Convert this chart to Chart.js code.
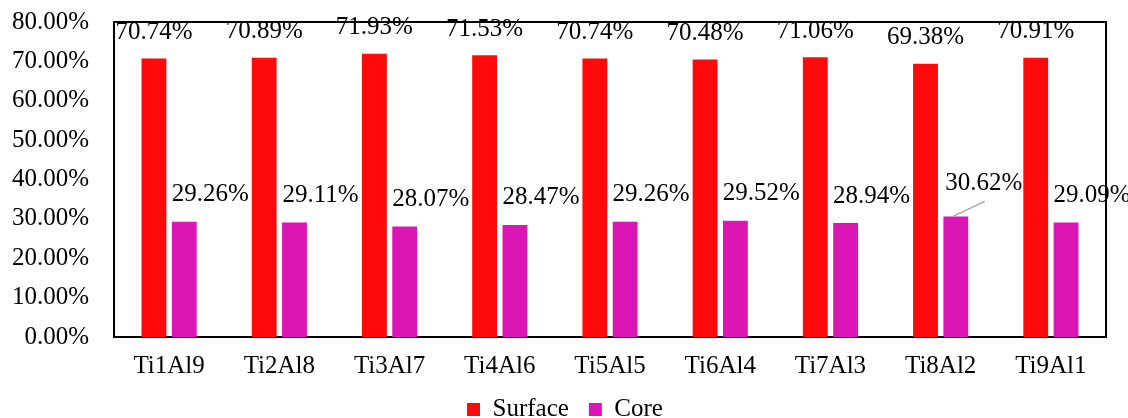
<!DOCTYPE html>
<html>
<head>
<meta charset="utf-8">
<script src="https://cdn.jsdelivr.net/npm/chart.js@4/dist/chart.umd.min.js"></script>
<style>
  html, body { margin: 0; padding: 0; background: #fff; overflow: hidden; }
  #wrap { width: 1128px; height: 418px; }
</style>
</head>
<body>
<div id="wrap"><canvas id="c" width="1128" height="418"></canvas></div>
<script>
// Alloy compositions and the surface / core fractions (%)
const categories = ['Ti1Al9', 'Ti2Al8', 'Ti3Al7', 'Ti4Al6', 'Ti5Al5', 'Ti6Al4', 'Ti7Al3', 'Ti8Al2', 'Ti9Al1'];
const surfaceValues = [70.74, 70.89, 71.93, 71.53, 70.74, 70.48, 71.06, 69.38, 70.91];
const coreValues = [29.26, 29.11, 28.07, 28.47, 29.26, 29.52, 28.94, 30.62, 29.09];
const yTicks = [0, 10, 20, 30, 40, 50, 60, 70, 80];

const FONT = '"Liberation Serif", "Times New Roman", serif';
const fmt = v => v.toFixed(2) + '%';

// Frame around the plot area, drawn beneath the bars
const framePlugin = {
  id: 'frame',
  beforeDatasetsDraw(chart) {
    const { ctx, chartArea: a } = chart;
    ctx.save();
    ctx.strokeStyle = '#000';
    ctx.lineWidth = 2;
    ctx.strokeRect(a.left, a.top, a.right - a.left, a.bottom - a.top);
    ctx.restore();
  }
};

// Nudge the legend a little to the right of the canvas centre
const legendShift = {
  id: 'legendShift',
  afterLayout(chart) {
    chart.legend.left += 12;
    chart.legend.right += 12;
  }
};

// Value labels: surface centred above each bar, core shifted to the right;
// the Ti8Al2 core label is lifted and joined to its bar by a leader line
const valueLabels = {
  id: 'valueLabels',
  afterDatasetsDraw(chart) {
    const { ctx } = chart;
    ctx.save();
    ctx.font = '25px ' + FONT;
    ctx.fillStyle = '#000';
    ctx.textBaseline = 'middle';
    ctx.textAlign = 'center';
    chart.getDatasetMeta(0).data.forEach((bar, i) => {
      ctx.fillText(fmt(surfaceValues[i]), bar.x, bar.y - 26);
    });
    chart.getDatasetMeta(1).data.forEach((bar, i) => {
      if (i === 7) {
        ctx.strokeStyle = '#A6A6A6';
        ctx.lineWidth = 1.5;
        ctx.beginPath();
        ctx.moveTo(bar.x - 3, bar.y);
        ctx.lineTo(bar.x + 29, bar.y - 15);
        ctx.stroke();
        ctx.fillText(fmt(coreValues[i]), bar.x + 28, bar.y - 33);
      } else {
        ctx.fillText(fmt(coreValues[i]), bar.x + 26, bar.y - 27);
      }
    });
    ctx.restore();
  }
};

new Chart(document.getElementById('c'), {
  type: 'bar',
  data: {
    labels: categories,
    datasets: [
      { label: 'Surface', data: surfaceValues, backgroundColor: '#FF0A0A', borderWidth: 0,
        categoryPercentage: 0.55, barPercentage: 0.82 },
      { label: 'Core', data: coreValues, backgroundColor: '#DC16B4', borderWidth: 0,
        categoryPercentage: 0.55, barPercentage: 0.82 }
    ]
  },
  options: {
    responsive: false,
    animation: false,
    devicePixelRatio: 1,
    layout: { padding: { top: 22, right: 22, left: 0, bottom: -14 } },
    plugins: {
      tooltip: { enabled: false },
      legend: {
        position: 'bottom',
        labels: {
          font: { family: FONT, size: 25 },
          color: '#000',
          boxWidth: 13,
          boxHeight: 13,
          padding: 20
        }
      }
    },
    scales: {
      x: {
        grid: { display: false, drawTicks: false },
        border: { display: false },
        ticks: { font: { family: FONT, size: 25 }, color: '#000', padding: 14, maxRotation: 0 },
        afterFit(s) { s.height = 40; }
      },
      y: {
        min: 0,
        max: 80,
        grid: { display: false, drawTicks: true, tickLength: 22 },
        border: { display: false },
        afterBuildTicks(s) { s.ticks = yTicks.map(v => ({ value: v })); },
        ticks: { font: { family: FONT, size: 25 }, color: '#000', padding: 3,
                 callback: v => fmt(v) },
        afterFit(s) { s.width = 114; }
      }
    }
  },
  plugins: [framePlugin, legendShift, valueLabels]
});
</script>
</body>
</html>
